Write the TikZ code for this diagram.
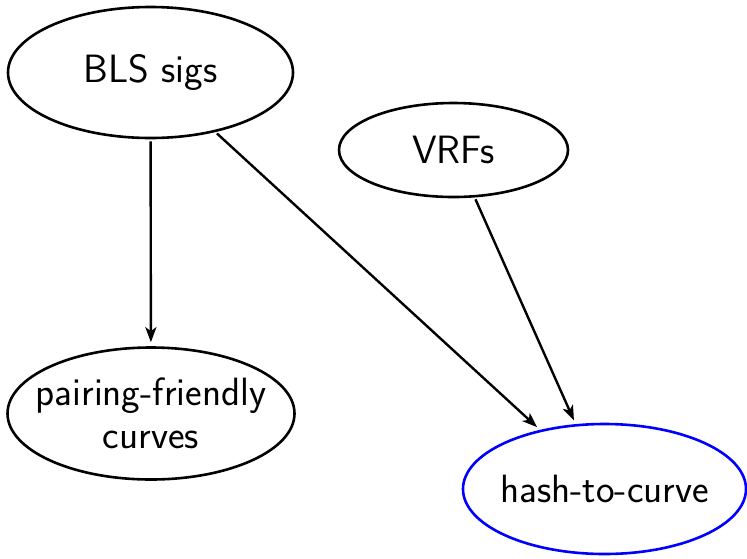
\documentclass[tikz,border=0pt]{standalone}
\usetikzlibrary{shapes.geometric,arrows.meta}
\begin{document}
\begin{tikzpicture}[x=1pt,y=-1pt,
  elln/.style={ellipse, draw, line width=2.6pt, inner ysep=0pt, inner xsep=-50pt, font=\sffamily\fontsize{39.5}{43}\selectfont, align=center},
  edge/.style={line width=2.4pt, -{Stealth[length=15pt,width=11pt,inset=4pt]}, shorten >=4pt, shorten <=2pt}]
\useasboundingbox (0,0) rectangle (747,558);
\node[elln, minimum width=285pt, minimum height=131pt] (bls) at (150.5,72.5) {BLS sigs};
\node[elln, minimum width=229pt, minimum height=94pt] (vrf) at (453.5,150) {VRFs};
\node[elln, minimum width=287pt, minimum height=132pt] (pfc) at (151,413.5) {pairing-friendly\\curves};
\node[elln, draw=blue, minimum width=283pt, minimum height=130pt] (htc) at (604.5,489) {hash-to-curve};
\draw[edge] (bls) -- (pfc);
\draw[edge] (bls) -- (htc);
\draw[edge] (vrf) -- (htc);
\end{tikzpicture}
\end{document}
